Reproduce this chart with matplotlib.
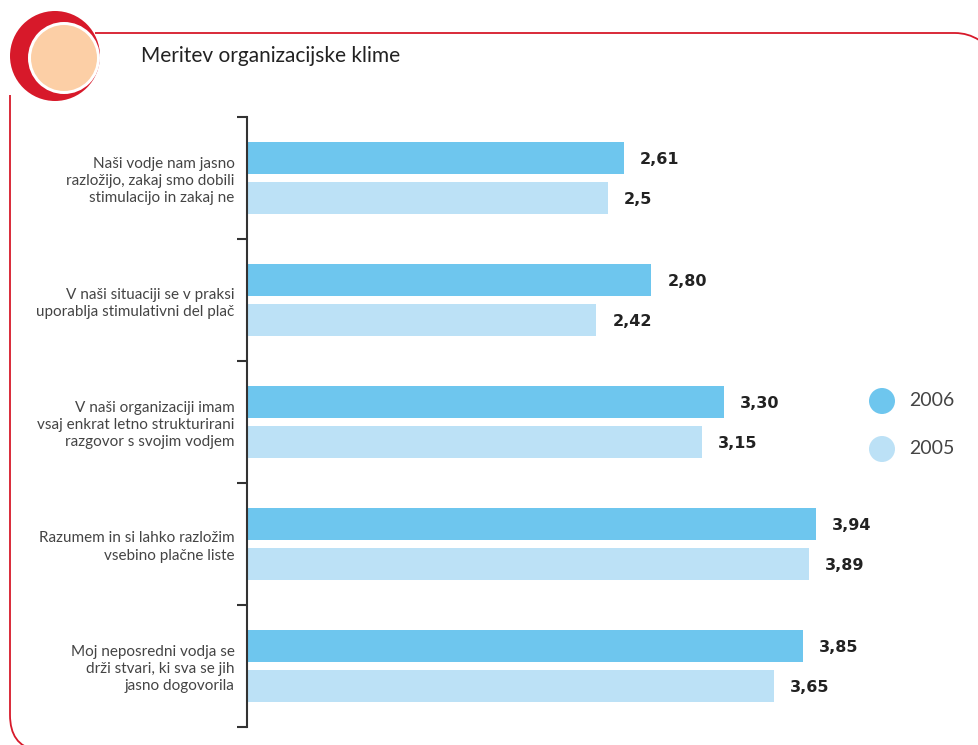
import matplotlib
matplotlib.use("Agg")
import matplotlib.pyplot as plt
from matplotlib.patches import Circle
from matplotlib.path import Path
from matplotlib.patches import PathPatch
import numpy as np

title = "Meritev organizacijske klime"
categories = [
    "Naši vodje nam jasno\nrazložijo, zakaj smo dobili\nstimulacijo in zakaj ne",
    "V naši situaciji se v praksi\nuporablja stimulativni del plač",
    "V naši organizaciji imam\nvsaj enkrat letno strukturirani\nrazgovor s svojim vodjem",
    "Razumem in si lahko razložim\nvsebino plačne liste",
    "Moj neposredni vodja se\ndrži stvari, ki sva se jih\njasno dogovorila",
]
series_names = ["2006", "2005"]
values_2006 = [2.61, 2.80, 3.30, 3.94, 3.85]
values_2005 = [2.50, 2.42, 3.15, 3.89, 3.65]
labels_2006 = ["2,61", "2,80", "3,30", "3,94", "3,85"]
labels_2005 = ["2,5", "2,42", "3,15", "3,89", "3,65"]

c2006 = "#6EC6EE"
c2005 = "#BCE1F6"
red = "#D7192A"
txt = "#444444"
FONT = "Lato"

W, H = 979, 745
fig = plt.figure(figsize=(W / 100, H / 100), dpi=100)

deco = fig.add_axes([0, 0, 1, 1], zorder=0)
deco.set_xlim(0, W)
deco.set_ylim(H, 0)
deco.axis("off")

codes = [Path.MOVETO, Path.LINETO, Path.CURVE3, Path.CURVE3]
verts = [(95, 33), (955, 33), (968, 33), (979, 40)]
deco.add_patch(PathPatch(Path(verts, codes), fill=False, edgecolor=red, lw=1.3))
verts = [(10, 95), (10, 715), (10, 745), (35, 750)]
deco.add_patch(PathPatch(Path(verts, codes), fill=False, edgecolor=red, lw=1.3))

deco.add_patch(Circle((55, 56), 45, facecolor=red, edgecolor="none"))
deco.add_patch(Circle((64, 58), 36, facecolor="white", edgecolor="none"))
deco.add_patch(Circle((64, 58), 33, facecolor="#FCCFA6", edgecolor="none"))

deco.text(141, 56, title, fontsize=15, color="#222222", va="center", ha="left",
          family=FONT)

for i, (name, col) in enumerate(zip(series_names, [c2006, c2005])):
    yy = 401 + i * 48
    deco.add_patch(Circle((882, yy), 13, facecolor=col, edgecolor="none"))
    deco.text(909, yy, name, fontsize=14, color=txt, va="center", ha="left",
              family=FONT, fontweight="normal")

ax = fig.add_axes([247 / W, (H - 727) / H, (W - 247) / W, 610 / H], zorder=1)
ax.patch.set_alpha(0)
ax.set_xlim(0, (W - 247) / 144.4)
ax.set_ylim(4.5, -0.5)

y = np.arange(len(categories))
off = 20 / 122
h = 32 / 122
ax.barh(y - off, values_2006, height=h, color=c2006)
ax.barh(y + off, values_2005, height=h, color=c2005)

for yi, v, lab in zip(y, values_2006, labels_2006):
    ax.annotate(lab, (v, yi - off), xytext=(16, -1), textcoords="offset pixels",
                va="center", ha="left", fontsize=11.5, fontweight="bold", color="#222222")
for yi, v, lab in zip(y, values_2005, labels_2005):
    ax.annotate(lab, (v, yi + off), xytext=(16, -1), textcoords="offset pixels",
                va="center", ha="left", fontsize=11.5, fontweight="bold", color="#222222")

for s in ["top", "right", "bottom"]:
    ax.spines[s].set_visible(False)
ax.spines["left"].set_color("#333333")
ax.spines["left"].set_linewidth(1.5)
ax.set_xticks([])
ax.set_yticks(np.arange(-0.5, 5.0, 1.0))
ax.set_yticklabels([])
ax.tick_params(axis="y", which="major", length=7, width=1.5, color="#333333", direction="out")
ax.set_yticks(y, minor=True)
ax.set_yticklabels(categories, minor=True, fontsize=11, color=txt,
                   family=FONT, linespacing=1.3)
ax.tick_params(axis="y", which="minor", length=0, pad=9)

fig.savefig("out.png", dpi=100)
